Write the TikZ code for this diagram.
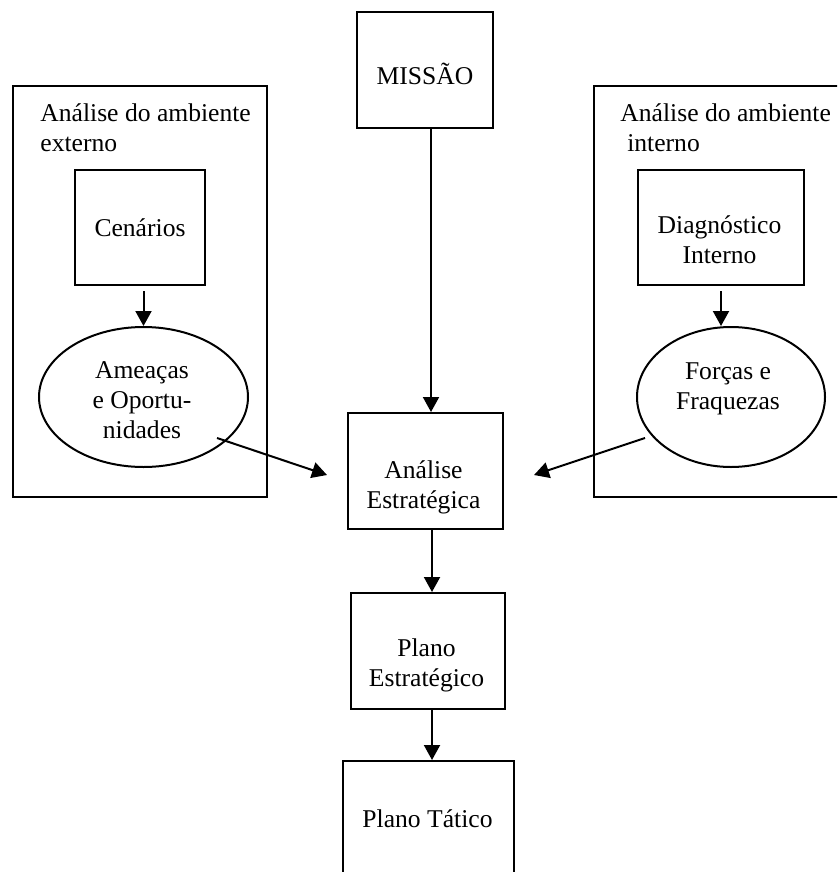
\documentclass[tikz,border=0pt]{standalone}
\usepackage{fontspec}
\setmainfont{Liberation Serif}
\usetikzlibrary{arrows.meta,fit,shapes.geometric,calc}
\begin{document}
\begin{tikzpicture}[x=0.5pt,y=-0.5pt,
  every node/.style={font=\fontsize{12.8}{15}\selectfont},
  box/.style={draw,line width=1pt,inner sep=0pt},
  oval/.style={draw,ellipse,line width=1pt,inner sep=0pt},
  txt/.style={inner sep=0pt,align=center,anchor=base},
  arr/.style={line width=1pt,-{Triangle[length=7.5pt,width=8pt]}}]

\useasboundingbox (0,0) rectangle (837,872);
\clip (0,0) rectangle (837,872);

% frames and boxes
\node[box,fit={(357,12)(493,128)}]  (mis) {};
\node[box,fit={(13,86)(267,497)}]   (ext) {};
\node[box,fit={(594,86)(850,497)}]  (int) {};
\node[box,fit={(75,170)(205,285)}]  (cen) {};
\node[box,fit={(638,170)(804,285)}] (dia) {};
\node[oval,minimum width=104.5pt,minimum height=70pt] (ame) at (143.5,397) {};
\node[oval,minimum width=94pt,minimum height=70pt]    (for) at (731,397) {};
\node[box,fit={(348,413)(503,529)}] (ae) {};
\node[box,fit={(351,593)(505,709)}] (pe) {};
\node[box,fit={(343,761)(514,900)}] (pt) {};

% texts (base anchor sits on the last line)
\node[inner sep=0pt,align=left,anchor=base west] (ext-t) at (40,151)
  {Análise do ambiente\\externo};
\node[inner sep=0pt,align=left,anchor=base west] (int-t) at (620,151)
  {Análise do ambiente\\\hspace*{0.27em}interno};
\node[txt] (mis-t) at (425,85)    {MISSÃO};
\node[txt] (cen-t) at (140,236)   {Cenários};
\node[txt] (ame-t) at (142,438)   {Ameaças\\e Oportu-\\nidades};
\node[txt] (dia-t) at (719.5,263) {Diagnóstico\\Interno};
\node[txt] (for-t) at (728,409)   {Forças e\\Fraquezas};
\node[txt] (ae-t)  at (423.5,508) {Análise\\Estratégica};
\node[txt] (pe-t)  at (426.5,686) {Plano\\Estratégico};
\node[txt] (pt-t)  at (427.5,827) {Plano Tático};

% connectors
\coordinate (ame-tail) at (217,438);
\coordinate (for-tail) at (645,438);
\draw[arr] ($(cen.south -| ame.north)+(0,5)$) -- (ame.north);
\draw[arr] ($(dia.south)+(0,5)$) -- (dia.south |- for.north);
\draw[arr] ([xshift=3pt]mis.south) -- ([xshift=3pt]mis.south |- ae.north);
\draw[arr] ([xshift=3.25pt]ae.south) -- ([xshift=3.25pt]ae.south |- pe.north);
\draw[arr] ([xshift=2pt]pe.south) -- ([xshift=2pt]pe.south |- pt.north);
\draw[arr] (ame-tail) -- ([shift={(-20,4)}]ae.west);
\draw[arr] (for-tail) -- ([shift={(30,4)}]ae.east);
\end{tikzpicture}
\end{document}
